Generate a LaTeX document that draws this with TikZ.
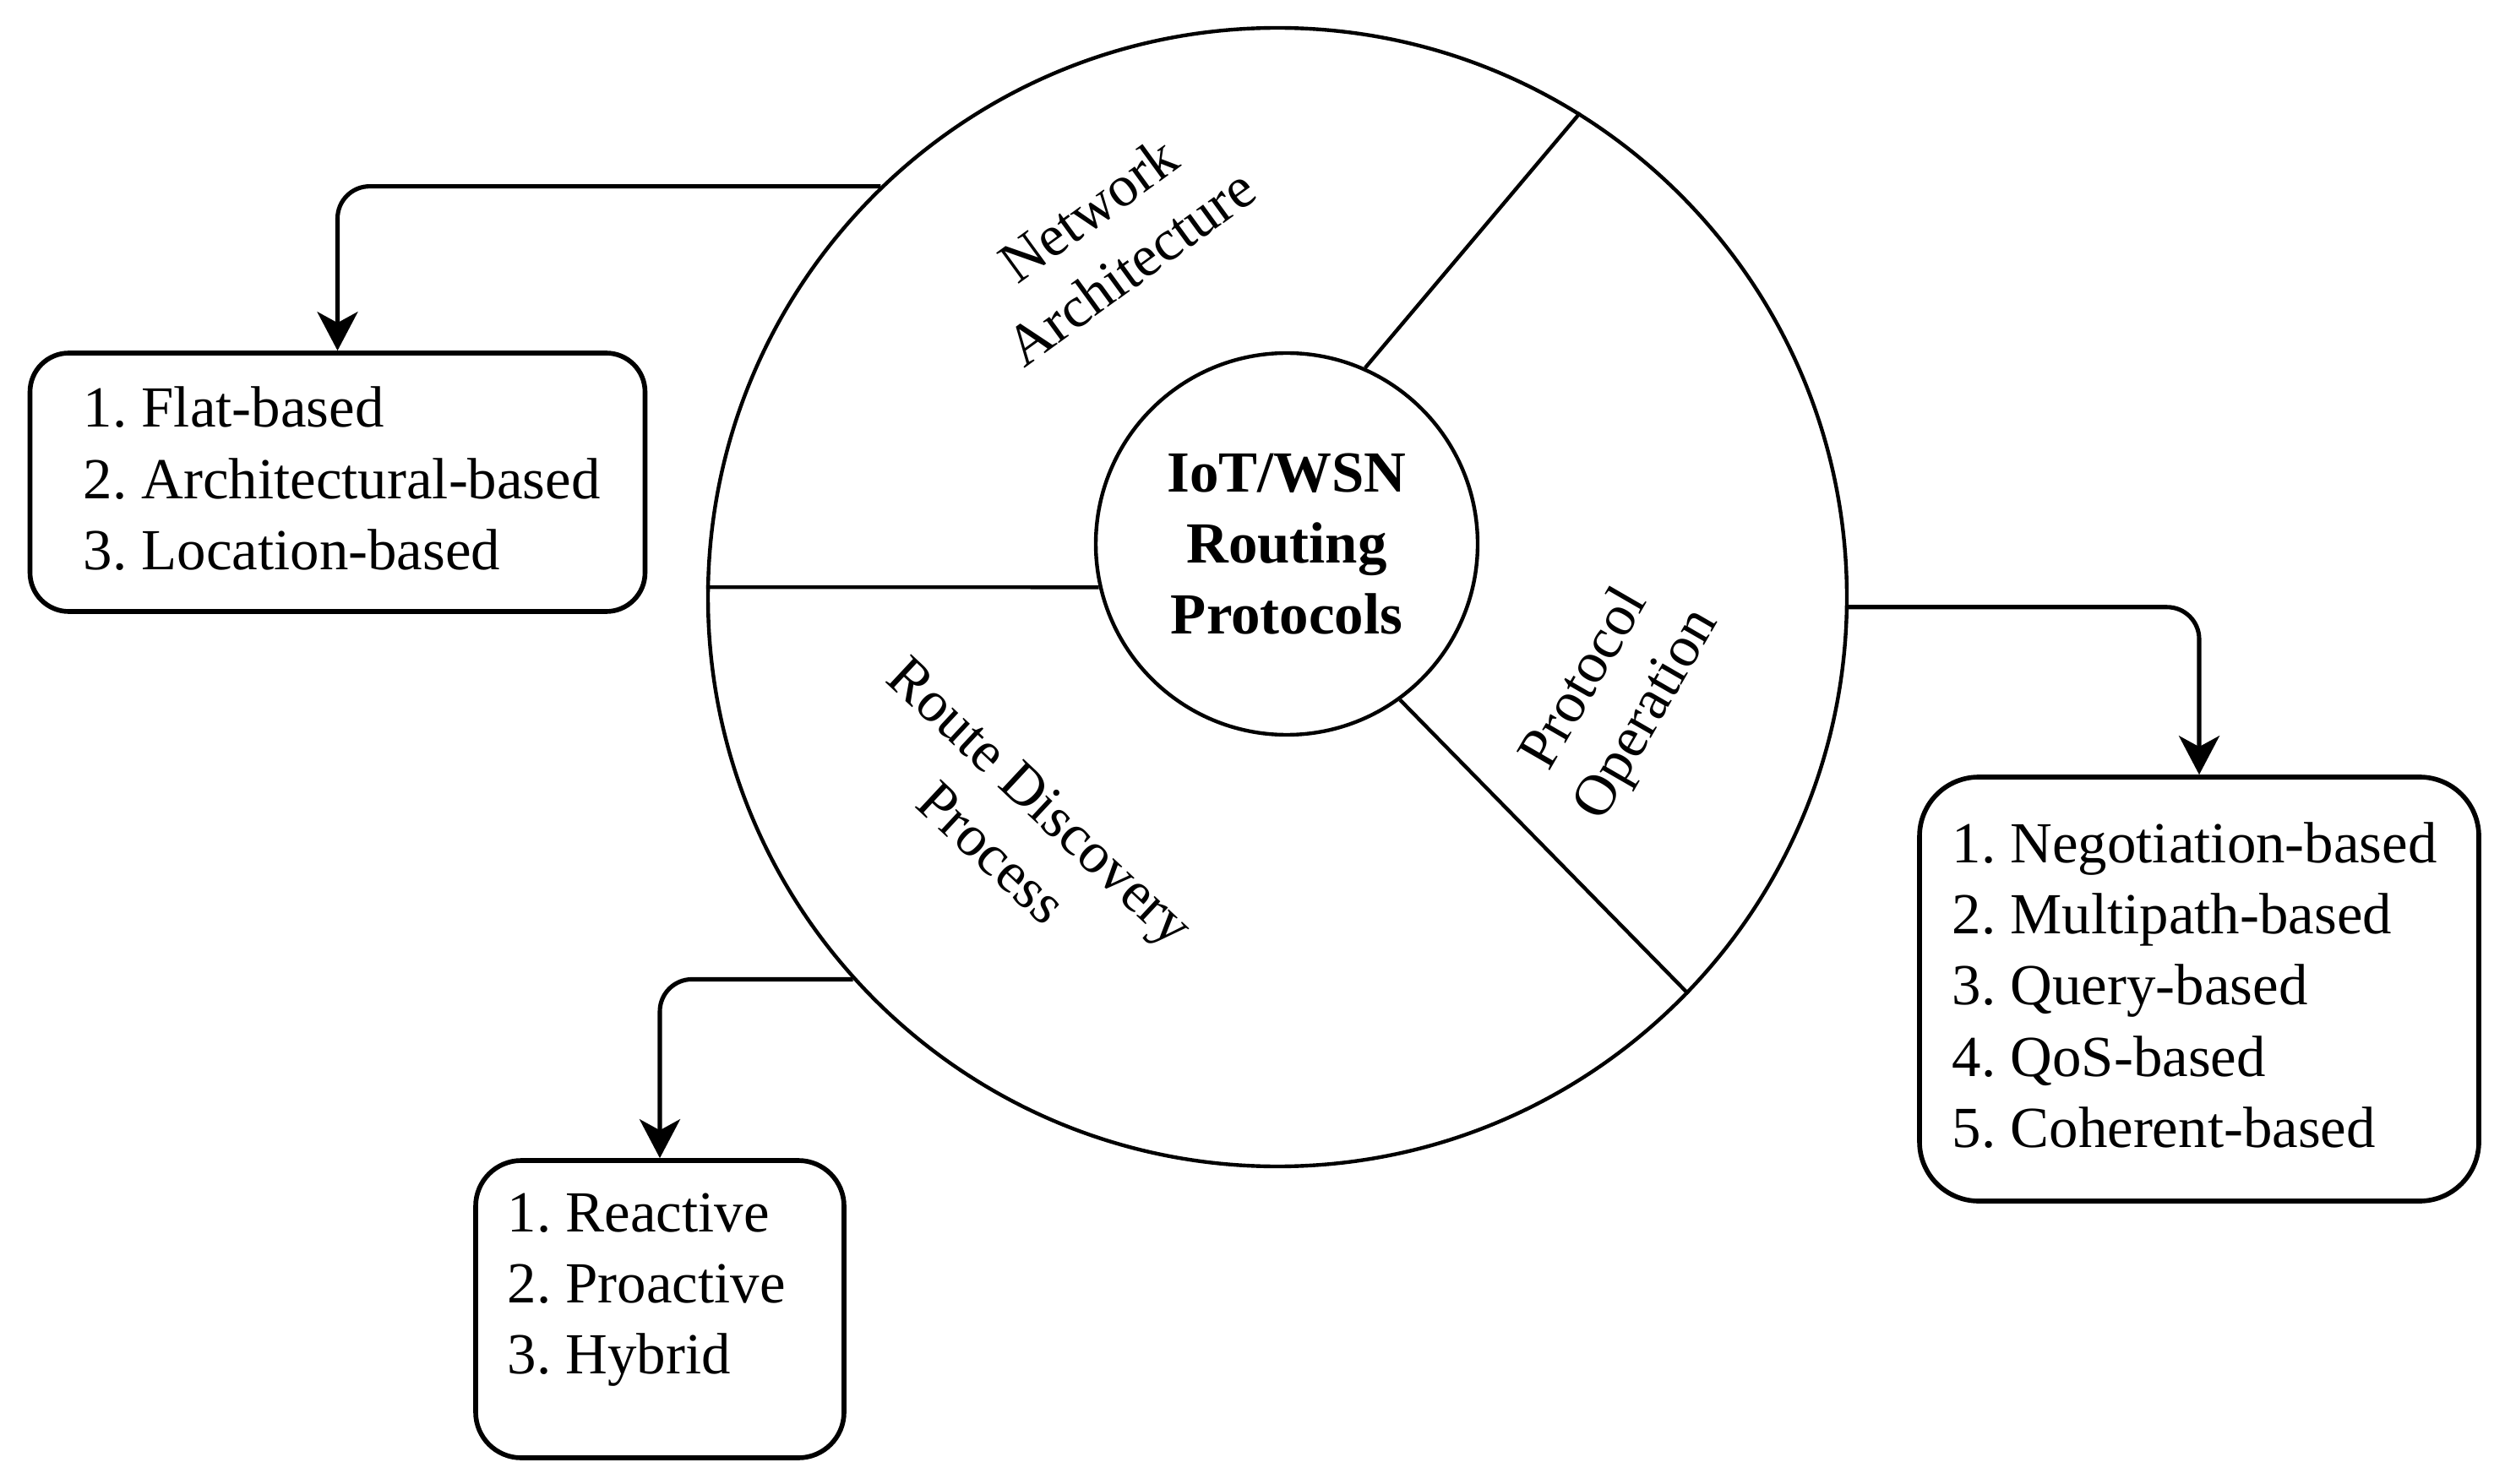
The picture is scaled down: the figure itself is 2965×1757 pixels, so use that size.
\documentclass[tikz,border=0pt]{standalone}
\usepackage{fontspec}
\setmainfont{Liberation Serif}
\usetikzlibrary{arrows.meta}
\frenchspacing
\begin{document}
\begin{tikzpicture}[x=0.1mm,y=-0.1mm,
  txt/.style={font=\fontsize{19.6}{24}\selectfont, inner sep=0pt},
  ring/.style={circle, draw, line width=1.25pt, inner sep=0pt},
  divline/.style={line width=1.25pt},
  listbox/.style={draw, line width=1.6pt, inner sep=0pt},
  conn/.style={line width=1.45pt, rounded corners=3.8mm, -{Stealth[length=4.6mm,width=4.8mm,inset=1.3mm]}},
  lbl/.style={txt, align=center}
]
\useasboundingbox (0,0) rectangle (2965,1757);
% rings
\node[ring, minimum size=134.8mm] (outer) at (1512,707) {};
\node[ring, minimum size=45.2mm, align=center, font=\fontsize{19.6}{24}\selectfont\bfseries] (inner) at (1523,644) {IoT/WSN\\Routing\\Protocols};
% dividers
\draw[divline] (inner.193) -- (outer.179.4);
\draw[divline] (inner.66) -- (outer.58.9);
\draw[divline] (inner.-54.3) -- (outer.-44.4);
% ring labels
\node[lbl, rotate=36] (lNA) at (1313,282) {Network\\Architecture};
\node[lbl, rotate=-43] (lRD) at (1203,979) {Route Discovery\\Process};
\node[lbl, rotate=60] (lPO) at (1914,826) {Protocol\\Operation};
% boxes
\node[listbox, rounded corners=4.6mm, minimum width=72.8mm, minimum height=30.6mm] (bNA) at (399.5,571) {};
\node[listbox, rounded corners=7mm, minimum width=66.2mm, minimum height=50.2mm] (bPO) at (2603,1171) {};
\node[listbox, rounded corners=5.4mm, minimum width=43.6mm, minimum height=35.2mm] (bRD) at (781,1550) {};
% box texts
\node[txt, anchor=base west] (tNA) at (98,506) {\begin{tabular}[t]{@{}l@{}}1. Flat-based\\2. Architectural-based\\3. Location-based\end{tabular}};
\node[txt, anchor=base west] (tPO) at (2310,1021) {\begin{tabular}[t]{@{}l@{}}1. Negotiation-based\\2. Multipath-based\\3. Query-based\\4. QoS-based\\5. Coherent-based\end{tabular}};
\node[txt, anchor=base west] (tRD) at (600,1458) {\begin{tabular}[t]{@{}l@{}}1. Reactive\\2. Proactive\\3. Hybrid\end{tabular}};
% connectors
\draw[conn] (outer.134) -| (bNA.north);
\draw[conn] (outer.-1.9) -| (bPO.north);
\draw[conn] (outer.222.8) -| (bRD.north);
\end{tikzpicture}
\end{document}
